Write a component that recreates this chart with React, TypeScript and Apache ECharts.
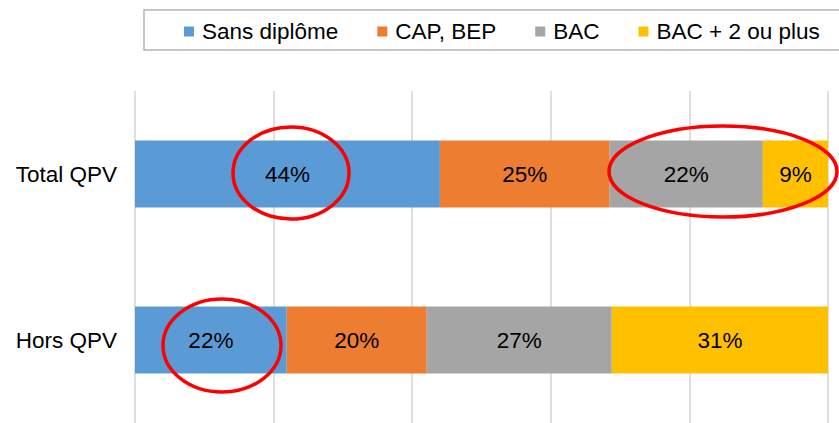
import React, { useEffect, useRef } from "react";
import * as echarts from "echarts";

const categories = ["Total QPV", "Hors QPV"];
const seriesNames = ["Sans diplôme", "CAP, BEP", "BAC", "BAC + 2 ou plus"];
const sansDiplome = [44, 21.9];
const capBep = [24.5, 20.2];
const bac = [22.1, 26.7];
const bacPlus2 = [9.4, 31.2];
const colors = ["#5B9BD5", "#ED7D31", "#A5A5A5", "#FFC000"];

const FONT = "'Liberation Sans', Arial, sans-serif";
const FS = 22.5;

export default function App() {
  const ref = useRef<HTMLDivElement>(null);
  useEffect(() => {
    if (!ref.current) return;
    const chart = echarts.init(ref.current, undefined, { renderer: "svg" });
    const values = [sansDiplome, capBep, bac, bacPlus2];
    chart.setOption({
      animation: false,
      backgroundColor: "#ffffff",
      textStyle: { fontFamily: FONT },
      legend: {
        left: 184,
        top: 20,
        padding: 0,
        itemWidth: 10,
        itemHeight: 10,
        itemGap: 39,
        icon: "rect",
        data: seriesNames,
        textStyle: {
          fontFamily: FONT,
          fontSize: FS,
          color: "#000",
          lineHeight: 22,
          padding: [0, 0, 0, 3],
        },
      },
      grid: { left: 135, right: 11, top: 91, height: 334, containLabel: false },
      xAxis: {
        type: "value",
        min: 0,
        max: 100,
        interval: 20,
        axisLabel: { show: false },
        axisLine: { show: false },
        axisTick: { show: false },
        splitLine: { show: true, lineStyle: { color: "#D4D4D4", width: 1.5 } },
      },
      yAxis: {
        type: "category",
        inverse: true,
        data: categories,
        axisLine: { show: false },
        axisTick: { show: false },
        axisLabel: {
          margin: 18,
          fontFamily: FONT,
          fontSize: FS,
          color: "#000",
        },
      },
      series: seriesNames.map((name, i) => ({
        name,
        type: "bar",
        stack: "total",
        barWidth: 67,
        data: values[i],
        itemStyle: { color: colors[i] },
        label: {
          show: true,
          position: "inside",
          formatter: (p: any) => Math.round(p.value) + "%",
          fontFamily: FONT,
          fontSize: FS,
          color: "#000",
        },
      })),
      graphic: [
        {
          type: "rect",
          shape: { x: 144, y: 10, width: 720, height: 40 },
          style: { fill: "none", stroke: "#B4B4B4", lineWidth: 1.5 },
          z: 10,
        },
        {
          type: "ellipse",
          shape: { cx: 291, cy: 173, rx: 58, ry: 46 },
          style: { fill: "none", stroke: "#FF0000", lineWidth: 3.5 },
          z: 20,
        },
        {
          type: "ellipse",
          shape: { cx: 723, cy: 171.5, rx: 114, ry: 45.5 },
          style: { fill: "none", stroke: "#FF0000", lineWidth: 3.5 },
          z: 20,
        },
        {
          type: "ellipse",
          shape: { cx: 222, cy: 345.5, rx: 59, ry: 46.5 },
          style: { fill: "none", stroke: "#FF0000", lineWidth: 3.5 },
          z: 20,
        },
      ],
    });
    return () => chart.dispose();
  }, []);
  return <div ref={ref} style={{ width: 839, height: 423, position: "absolute", left: 0, top: 0 }} />;
}
